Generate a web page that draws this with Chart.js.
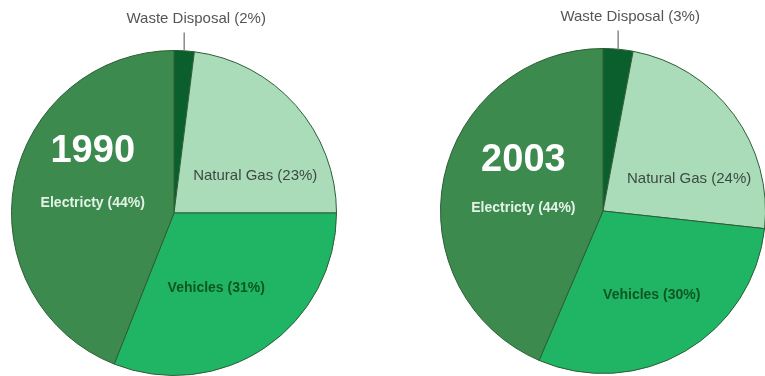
<!DOCTYPE html>
<html>
<head>
<meta charset="utf-8">
<script src="https://cdn.jsdelivr.net/npm/chart.js@4.4.1/dist/chart.umd.min.js"></script>
<style>
  html, body { margin: 0; padding: 0; background: #fff; }
  body { width: 765px; height: 376px; overflow: hidden; position: relative; }
  .pie { position: absolute; top: 0; }
</style>
</head>
<body>
<div class="pie" style="left:0px"><canvas id="pie-1990" width="380" height="376"></canvas></div>
<div class="pie" style="left:390px"><canvas id="pie-2003" width="400" height="376"></canvas></div>
<script>
// Emission sources by share
// ------------------------------
var categories = ['Waste Disposal', 'Natural Gas', 'Vehicles', 'Electricty'];
var years = ['1990', '2003'];
var share1990 = [2, 23, 31, 44];
var share2003 = [3, 24, 30, 44];

var sliceColors = ['#0b5f2c', '#aadcb9', '#20b565', '#3d8a4e'];
var textColors = [null, '#3e4a41', '#0e5524', '#e3f2e6'];

// label spots, as fractions of the radius from the pie centre
var spots1990 = { year: [-0.50, -0.38], items: [null, [0.50, -0.23], [0.26, 0.46], [-0.50, -0.06]] };
var spots2003 = { year: [-0.49, -0.31], items: [null, [0.53, -0.20], [0.30, 0.52], [-0.49, -0.02]] };

var sliceLabels = {
    id: 'sliceLabels',
    afterDatasetsDraw: function(chart, args, opts) {
        var ctx = chart.ctx;
        var meta = chart.getDatasetMeta(0);
        var values = chart.data.datasets[0].data;
        var first = meta.data[0];
        var cx = first.x, cy = first.y, R = first.outerRadius;
        ctx.save();
        ctx.textAlign = 'center';
        ctx.textBaseline = 'middle';

        // year
        ctx.fillStyle = '#ffffff';
        ctx.font = 'bold 38px "Liberation Sans", Arial, sans-serif';
        ctx.fillText(opts.year, cx + opts.spots.year[0] * R, cy + opts.spots.year[1] * R);

        // slice labels
        for (var i = 1; i < values.length; i++) {
            var s = opts.spots.items[i];
            ctx.fillStyle = textColors[i];
            if (i === 2) ctx.font = 'bold 14px "Liberation Sans", Arial, sans-serif';
            else if (i === 3) ctx.font = 'bold 14px "Liberation Sans", Arial, sans-serif';
            else ctx.font = '15px "Liberation Sans", Arial, sans-serif';
            ctx.fillText(categories[i] + ' (' + values[i] + '%)', cx + s[0] * R, cy + s[1] * R);
        }

        // waste disposal: callout above the pie
        var mid = (first.startAngle + first.endAngle) / 2;
        var lx = cx + Math.cos(mid) * R;
        ctx.strokeStyle = '#8a8a8a';
        ctx.lineWidth = 1.5;
        ctx.beginPath();
        ctx.moveTo(lx, cy + Math.sin(mid) * R);
        ctx.lineTo(lx, cy - R - 18);
        ctx.stroke();
        ctx.fillStyle = '#555555';
        ctx.font = '15px "Liberation Sans", Arial, sans-serif';
        ctx.fillText(categories[0] + ' (' + values[0] + '%)', lx + 12, cy - R - 32);
        ctx.restore();
    }
};

function makePie(id, values, year, spots, padding) {
    var config = {
        type: 'pie',
        data: {
            labels: categories,
            datasets: [{
                data: values,
                backgroundColor: sliceColors,
                borderColor: '#2c5e36',
                borderWidth: 1
            }]
        },
        options: {
            responsive: false,
            animation: false,
            layout: { padding: padding },
            plugins: {
                legend: { display: false },
                tooltip: { enabled: false },
                sliceLabels: { year: year, spots: spots }
            }
        },
        plugins: [sliceLabels]
    };
    return new Chart(document.getElementById(id), config);
}

makePie('pie-1990', share1990, years[0], spots1990, { left: 11, top: 50, right: 43, bottom: 0 });
makePie('pie-2003', share2003, years[1], spots2003, { left: 50, top: 48, right: 24, bottom: 2 });
</script>
</body>
</html>
